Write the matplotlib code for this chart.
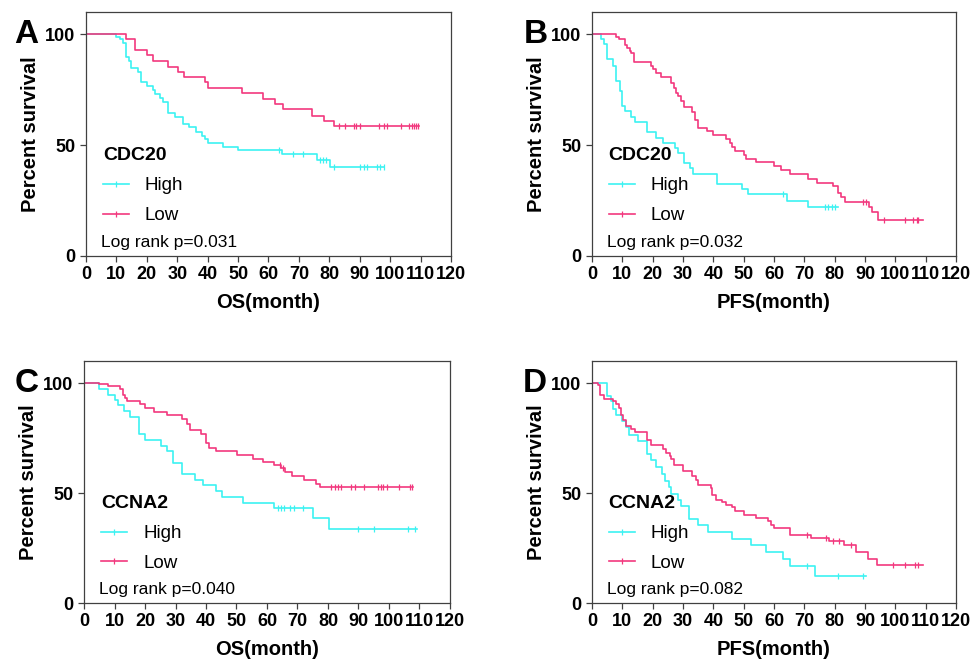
import numpy as np
import matplotlib
matplotlib.use('Agg')
import matplotlib.pyplot as plt
from matplotlib.lines import Line2D

plt.rcParams['font.family'] = ['Liberation Sans', 'DejaVu Sans']

HIGH_COLOR = '#3CF2F2'
LOW_COLOR = '#F2387E'

# ---- panel A: CDC20, OS ----
a_high_t = [0, 10.0, 11.1, 12.2, 13.0, 13.3, 14.2, 14.9, 17.1, 18.0, 19.9, 21.9, 22.6, 24.3, 25.2, 27.0,
            29.2, 32.0, 34.0, 36.2, 38.0, 39.1, 40.2, 45.2, 50.1, 64.4, 75.9, 80.1]
a_high_s = [100, 98.9, 97.9, 95.9, 92.9, 89.9, 87.7, 84.9, 83.1, 78.6, 76.8, 74.8, 73.0, 71.1, 69.6, 64.6,
            62.8, 59.5, 58.0, 56.0, 54.1, 52.6, 50.8, 49.2, 47.7, 45.8, 43.5, 40.2]
a_high_c = [63.6, 68.2, 71.5, 76.8, 77.9, 79.0, 81.4, 90.2, 91.3, 92.4, 95.7, 96.8, 97.9]
a_high_end = 98.1
a_low_t = [0, 13.0, 16.0, 20.2, 22.1, 27.0, 30.1, 32.2, 39.1, 40.2, 51.2, 58.1, 62.2, 64.9, 74.3, 78.1, 81.4]
a_low_s = [100, 97.7, 92.9, 90.7, 88.0, 85.4, 83.1, 80.6, 78.3, 75.6, 73.3, 70.8, 68.5, 66.1, 63.3, 61.0, 58.7]
a_low_c = [83.1, 85.3, 88.2, 88.9, 90.0, 96.3, 97.9, 99.0, 103.4, 106.2, 107.3, 107.8, 108.4, 109.1]
a_low_end = 109.5

# ---- panel B: CDC20, PFS ----
b_high_t = [0, 3.1, 3.9, 5.0, 6.9, 8.0, 9.1, 10.0, 10.8, 13.0, 14.1, 18.2, 21.2, 23.4, 27.3, 28.4, 30.3,
            32.2, 33.3, 41.3, 49.3, 51.5, 64.4, 71.3]
b_high_s = [100, 97.7, 95.5, 88.7, 85.8, 79.0, 74.5, 67.6, 65.3, 62.7, 60.5, 55.7, 53.4, 51.1, 48.9, 46.5,
            41.9, 39.7, 37.1, 32.6, 30.3, 28.1, 25.0, 22.0]
b_high_c = [63.0, 76.8, 77.9, 79.0, 80.1]
b_high_end = 81.2
b_low_t = [0, 8.0, 8.9, 10.8, 11.6, 12.4, 13.0, 13.8, 19.3, 20.1, 21.0, 22.9, 26.2, 26.9, 27.8, 28.4, 29.2,
           30.3, 33.1, 34.1, 35.0, 38.0, 39.9, 44.1, 45.4, 46.2, 47.1, 50.1, 50.9, 54.2, 60.0, 62.2, 65.2,
           71.3, 74.3, 79.3, 81.2, 82.0, 83.4, 91.3, 92.2, 94.4]
b_low_s = [100, 98.9, 97.7, 95.2, 93.7, 92.6, 91.4, 87.6, 85.8, 84.2, 82.7, 80.8, 77.8, 75.6, 73.6, 72.1, 70.0,
           67.0, 65.0, 61.5, 57.9, 56.4, 54.4, 52.6, 51.0, 49.2, 47.4, 45.4, 43.9, 42.4, 40.6, 38.6, 36.8,
           34.8, 33.0, 31.5, 28.4, 26.5, 24.3, 22.0, 19.8, 16.3]
b_low_c = [89.4, 90.2, 96.3, 103.2, 105.9, 107.0, 107.6]
b_low_end = 109.2

# ---- panel C: CCNA2, OS ----
c_high_t = [0, 4.9, 8.0, 10.0, 11.0, 13.0, 15.2, 18.1, 20.1, 25.1, 27.3, 29.1, 32.2, 36.3, 39.1, 43.2,
            45.4, 52.2, 62.2, 75.1, 80.2]
c_high_s = [100, 97.1, 94.7, 92.1, 89.8, 87.1, 84.5, 76.7, 73.9, 71.2, 68.9, 63.6, 58.5, 56.1, 53.5, 50.9,
            48.2, 45.5, 43.2, 38.8, 33.8]
c_high_c = [63.5, 64.6, 65.7, 67.4, 69.0, 71.8, 89.9, 95.2, 106.2, 108.6]
c_high_end = 109.1
c_low_t = [0, 4.9, 8.0, 11.9, 12.7, 13.5, 14.1, 18.2, 20.1, 23.1, 27.3, 32.0, 33.8, 34.7, 38.2, 39.9, 41.0,
           43.2, 50.1, 55.3, 58.6, 62.2, 64.6, 65.9, 68.1, 72.1, 76.2, 77.3]
c_low_s = [100, 99.4, 98.5, 97.1, 94.7, 93.3, 91.7, 90.3, 88.6, 86.8, 85.6, 83.8, 81.2, 78.8, 77.0, 72.7, 70.6,
           69.1, 67.1, 65.6, 64.1, 62.6, 61.4, 59.5, 57.6, 55.8, 54.2, 52.7]
c_low_c = [64.4, 65.2, 81.1, 82.2, 83.3, 84.4, 87.5, 88.8, 91.9, 96.5, 97.4, 98.1, 99.2, 103.3, 106.9, 107.7]
c_low_end = 108.0

# ---- panel D: CCNA2, PFS ----
d_high_t = [0, 5.0, 6.1, 6.9, 8.0, 10.0, 11.1, 12.2, 15.2, 18.2, 19.3, 21.2, 23.1, 24.2, 25.3, 26.2, 28.4,
            29.2, 32.0, 35.0, 38.1, 46.2, 52.3, 57.2, 63.0, 65.2, 73.5]
d_high_s = [100, 94.2, 91.7, 88.2, 85.3, 82.6, 80.0, 76.5, 73.5, 67.7, 64.8, 61.7, 58.6, 55.6, 52.7, 49.7, 47.0,
            44.2, 38.3, 35.3, 32.1, 29.1, 26.2, 23.2, 20.2, 17.0, 12.4]
d_high_c = [71.0, 81.2, 89.4]
d_high_end = 90.3
d_low_t = [0, 2.0, 2.8, 3.9, 6.9, 8.0, 8.9, 9.7, 10.2, 11.1, 13.0, 14.1, 18.2, 19.3, 23.4, 24.5, 25.6, 26.2,
           27.1, 30.0, 33.1, 34.2, 35.0, 39.1, 39.7, 41.0, 42.7, 44.1, 46.0, 47.1, 50.2, 54.0, 58.1, 58.9,
           60.0, 65.2, 72.1, 78.2, 83.2, 87.0, 91.1, 94.1]
d_low_s = [100, 98.9, 94.7, 92.7, 91.7, 90.5, 88.6, 85.6, 83.3, 80.6, 79.1, 77.6, 74.2, 72.0, 70.0, 68.2, 66.7,
           65.5, 62.6, 59.8, 57.9, 56.1, 53.8, 52.3, 49.2, 47.0, 45.8, 44.7, 43.5, 41.7, 40.2, 38.6, 37.1, 35.6,
           34.1, 31.1, 29.5, 28.0, 26.2, 23.0, 20.0, 17.1]
d_low_c = [71.0, 77.1, 79.3, 81.5, 85.4, 99.3, 103.2, 106.5, 107.6]
d_low_end = 109.2

panels = [
    ('A', 'CDC20', 'OS(month)', '0.031', (a_high_t, a_high_s, a_high_c, a_high_end), (a_low_t, a_low_s, a_low_c, a_low_end)),
    ('B', 'CDC20', 'PFS(month)', '0.032', (b_high_t, b_high_s, b_high_c, b_high_end), (b_low_t, b_low_s, b_low_c, b_low_end)),
    ('C', 'CCNA2', 'OS(month)', '0.040', (c_high_t, c_high_s, c_high_c, c_high_end), (c_low_t, c_low_s, c_low_c, c_low_end)),
    ('D', 'CCNA2', 'PFS(month)', '0.082', (d_high_t, d_high_s, d_high_c, d_high_end), (d_low_t, d_low_s, d_low_c, d_low_end)),
]

# axes rectangles in pixels (left, top, right, bottom) of a 979x662 figure
W, H = 979, 662
boxes = [(86, 12, 451, 256), (592, 12, 956, 256), (84, 361, 450, 603), (592, 361, 956, 603)]
letter_xy = [(14, 43), (524, 43), (15, 392), (523, 392)]


def draw_km(ax, t, s, c, end, color):
    t = list(t) + [end]
    s = list(s) + [s[-1]]
    ax.step(t, s, where='post', color=color, lw=1.2)
    idx = np.searchsorted(a=np.array(t), v=np.array(c), side='right') - 1
    cy = np.array(s)[idx]
    ax.plot(c, cy, ls='none', marker='|', ms=4, mew=0.9, color=color)


fig = plt.figure(figsize=(W / 100, H / 100), dpi=100)

for (letter, gene, xlab, pval, high, low), (l, t, r, b), (lx, ly) in zip(panels, boxes, letter_xy):
    ax = fig.add_axes([l / W, (H - b) / H, (r - l) / W, (b - t) / H])
    draw_km(ax, *high, HIGH_COLOR)
    draw_km(ax, *low, LOW_COLOR)

    ax.set_xlim(0, 120)
    ax.set_ylim(0, 110)
    ax.set_xticks(np.arange(0, 121, 10))
    ax.set_yticks([0, 50, 100])
    ax.tick_params(direction='out', length=4.5, width=0.9, color='#404040', labelsize=13, pad=3)
    for lab in ax.get_xticklabels() + ax.get_yticklabels():
        lab.set_fontweight('bold')
    for sp in ax.spines.values():
        sp.set_linewidth(0.9)
        sp.set_color('#404040')
    ax.set_xlabel(xlab, fontsize=14.5, fontweight='bold', labelpad=7)
    ax.set_ylabel('Percent survival', fontsize=14.5, fontweight='bold', labelpad=4)

    handles = [Line2D([], [], color=HIGH_COLOR, lw=1.2, marker='|', ms=4, mew=0.9),
               Line2D([], [], color=LOW_COLOR, lw=1.2, marker='|', ms=4, mew=0.9)]
    ax.legend(handles, ['High', 'Low'], title=gene, loc='upper left', bbox_to_anchor=(0.046, 0.445),
              frameon=False, fontsize=13.5, title_fontproperties={'weight': 'bold', 'size': 14},
              alignment='left', numpoints=1, handlelength=1.4, handletextpad=0.85,
              labelspacing=0.68, borderaxespad=0, borderpad=0)
    ax.text(0.04, 0.038, 'Log rank p=' + pval, transform=ax.transAxes, fontsize=12.5, va='baseline')

    fig.text(lx / W, (H - ly) / H, letter, fontsize=24, fontweight='bold', va='baseline')

fig.savefig('out.png', dpi=100)
